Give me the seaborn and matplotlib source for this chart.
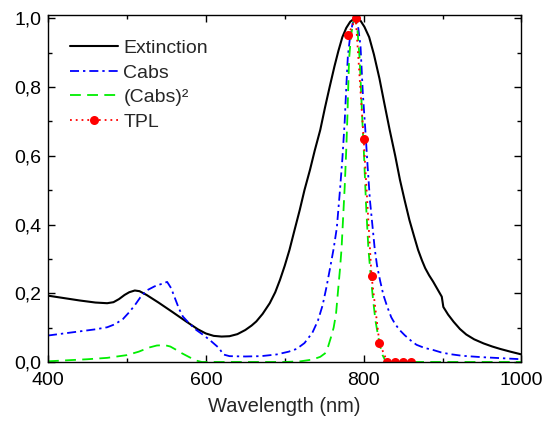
import numpy as np
import pandas as pd
import matplotlib
matplotlib.use("Agg")
import matplotlib.pyplot as plt
import matplotlib.ticker as mticker
import seaborn as sns

sns.set_theme(style="ticks")
plt.rcParams["font.family"] = ["Liberation Sans", "DejaVu Sans"]

# ------------------------------------------------------------------
# DATA (normalised spectra)
# ------------------------------------------------------------------
ext_wl = [400, 420, 440, 460, 475, 483, 490, 497, 503, 510, 516, 525, 540,
          558, 575, 590, 600, 610, 620, 630, 640, 650, 658, 664, 672, 681,
          688, 694, 700, 706, 712, 719, 725, 732, 738, 745, 751, 757, 763,
          768, 773, 778, 783, 788, 792, 796, 801, 807, 813, 820, 826, 833,
          840, 846, 852, 858, 864, 869, 874, 878, 883, 888, 893, 899, 901,
          907, 914, 922, 930, 940, 952, 963, 973, 986, 1000]
ext_val = [0.193, 0.186, 0.179, 0.173, 0.171, 0.174, 0.183, 0.195, 0.203,
           0.208, 0.206, 0.195, 0.173, 0.145, 0.118, 0.095, 0.083, 0.076,
           0.074, 0.075, 0.081, 0.093, 0.106, 0.118, 0.140, 0.171, 0.203,
           0.239, 0.280, 0.326, 0.380, 0.442, 0.500, 0.559, 0.615, 0.675,
           0.740, 0.801, 0.860, 0.905, 0.945, 0.972, 0.990, 0.999, 1.000,
           0.993, 0.975, 0.945, 0.895, 0.825, 0.755, 0.675, 0.600, 0.530,
           0.470, 0.413, 0.365, 0.326, 0.295, 0.273, 0.252, 0.234, 0.214,
           0.190, 0.160, 0.138, 0.117, 0.096, 0.080, 0.066, 0.054, 0.045,
           0.038, 0.030, 0.022]

cabs_wl = [400, 420, 440, 460, 475, 485, 495, 503, 510, 517, 525, 535, 545,
           551, 556, 561, 566, 571, 580, 588, 596, 605, 612, 617, 622, 630,
           650, 670, 690, 705, 715, 725, 735, 742, 748, 753, 758, 762, 766,
           770, 773, 776, 778, 780, 783, 786, 790, 793, 796, 799, 802, 805,
           808, 811, 814, 817, 821, 825, 830, 835, 840, 846, 852, 860, 867,
           877, 888, 898, 909, 925, 950, 975, 1000]
cabs_val = [0.077, 0.083, 0.089, 0.095, 0.101, 0.110, 0.125, 0.145, 0.165,
            0.188, 0.208, 0.220, 0.228, 0.233, 0.215, 0.185, 0.155, 0.132,
            0.110, 0.093, 0.080, 0.064, 0.050, 0.040, 0.022, 0.017, 0.016,
            0.017, 0.022, 0.030, 0.038, 0.055, 0.085, 0.120, 0.165, 0.219,
            0.280, 0.330, 0.390, 0.500, 0.590, 0.700, 0.800, 0.890, 0.950,
            0.985, 1.000, 0.975, 0.920, 0.780, 0.680, 0.570, 0.470, 0.400,
            0.330, 0.280, 0.235, 0.195, 0.160, 0.130, 0.110, 0.092, 0.078,
            0.062, 0.050, 0.041, 0.035, 0.028, 0.023, 0.018, 0.014, 0.011,
            0.008]

cabs2_wl = [400, 425, 450, 475, 500, 515, 528, 538, 548, 555, 562, 570, 580,
            588, 595, 700, 720, 735, 745, 751, 755, 759, 762, 765, 768, 770,
            772, 774, 776, 778, 779.5, 781.5, 784, 787, 789, 792, 795, 798,
            800.5, 803, 806, 809, 812, 815, 818, 821, 824, 827, 832, 1000]
cabs2_val = [0.002, 0.005, 0.008, 0.012, 0.020, 0.030, 0.042, 0.048, 0.049,
             0.045, 0.036, 0.025, 0.013, 0.004, 0.000, 0.000, 0.002, 0.007,
             0.015, 0.025, 0.045, 0.075, 0.100, 0.140, 0.219, 0.270, 0.330,
             0.420, 0.510, 0.620, 0.720, 0.880, 0.950, 0.990, 1.000, 0.970,
             0.880, 0.720, 0.600, 0.460, 0.330, 0.250, 0.180, 0.120, 0.080,
             0.045, 0.020, 0.006, 0.000, 0.000]

tpl_wl = [780, 790, 800, 810, 820, 830, 840, 850, 860]
tpl_val = [0.95, 1.00, 0.65, 0.25, 0.055, 0.0, 0.0, 0.0, 0.0]

x_ticks = [400, 600, 800, 1000]
y_ticks = [0.0, 0.2, 0.4, 0.6, 0.8, 1.0]

# ------------------------------------------------------------------
# PLOT
# ------------------------------------------------------------------
fig = plt.figure(figsize=(5.44, 4.29), dpi=100)
ax = fig.add_axes([0.0882, 0.1562, 0.8704, 0.8089])

sns.lineplot(x=ext_wl, y=ext_val, ax=ax, color="black", lw=1.5,
             label="Extinction")
sns.lineplot(x=cabs_wl, y=cabs_val, ax=ax, color="#0000ff", lw=1.3,
             linestyle=(0, (5, 2.2, 1.3, 2.2)), label="Cabs")
sns.lineplot(x=cabs2_wl, y=cabs2_val, ax=ax, color="#00ee00", lw=1.3,
             linestyle=(0, (6, 3.5)), label="(Cabs)²")
sns.lineplot(x=tpl_wl, y=tpl_val, ax=ax, color="#ff0000", lw=1.3,
             linestyle=(0, (1, 2.2)), marker="o", markersize=6.5,
             markeredgewidth=0, label="TPL")

ax.set_xlim(400, 1000)
ax.set_ylim(0, 1.0096)
ax.set_xticks(x_ticks)
ax.set_yticks(y_ticks)
ax.xaxis.set_minor_locator(mticker.MultipleLocator(100))
ax.yaxis.set_minor_locator(mticker.MultipleLocator(0.1))
ax.yaxis.set_major_formatter(
    mticker.FuncFormatter(lambda v, _: f"{v:.1f}".replace(".", ",")))
ax.tick_params(which="both", direction="in", top=True, right=True,
               colors="black", labelsize=14, width=1)
ax.tick_params(which="major", length=5)
ax.tick_params(which="minor", length=3)
ax.tick_params(axis="x", which="major", pad=7)
ax.tick_params(axis="y", which="major", pad=5)
for sp in ax.spines.values():
    sp.set_color("black")
    sp.set_linewidth(1)

ax.set_xlabel("Wavelength (nm)", fontsize=14.5, labelpad=6)
ax.set_ylabel("")

ax.legend(loc="upper left", bbox_to_anchor=(0.01, 0.98), frameon=False,
          fontsize=14, handlelength=2.47, handletextpad=0.26,
          labelspacing=0.36, numpoints=1)

fig.savefig("out.png", dpi=100)
